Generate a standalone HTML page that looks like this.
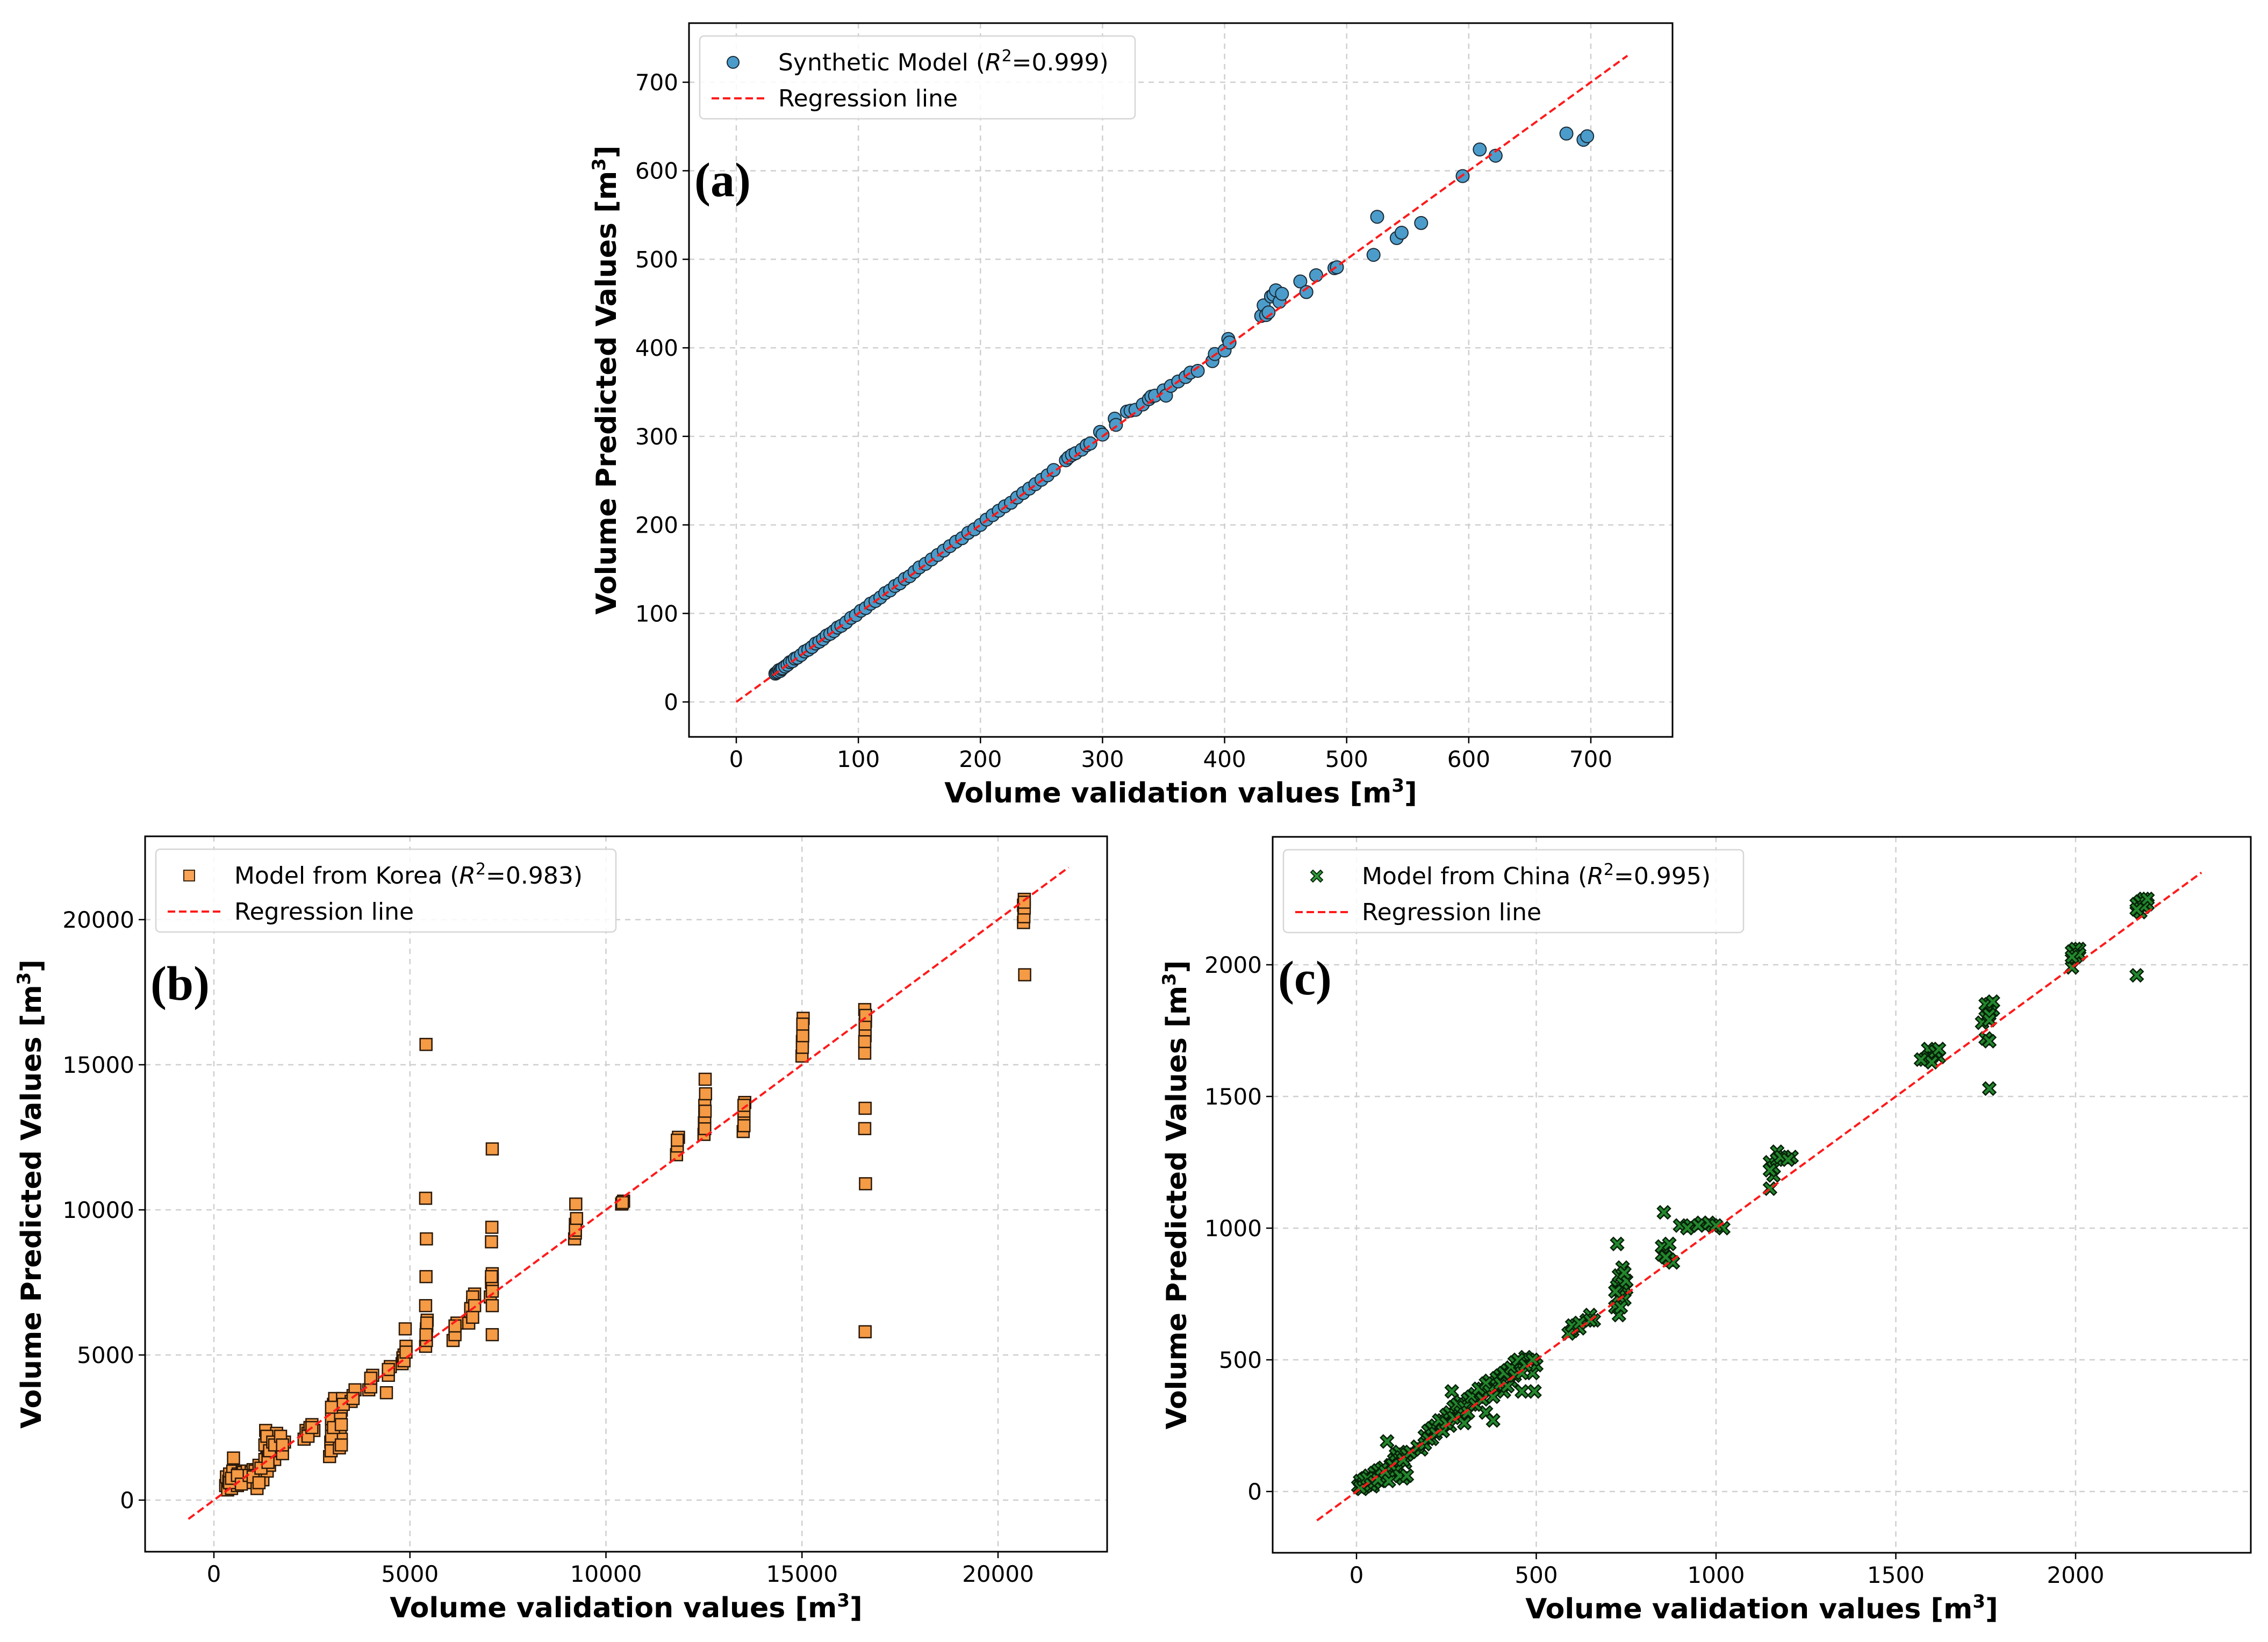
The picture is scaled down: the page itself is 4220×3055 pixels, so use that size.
<!DOCTYPE html>
<html><head><meta charset="utf-8"><style>
html,body{margin:0;padding:0;background:#fff}
svg{display:block}
</style></head><body>
<svg id="fig" xmlns="http://www.w3.org/2000/svg" width="4220" height="3055" viewBox="0 0 4220 3055" font-family="DejaVu Sans, Liberation Sans, sans-serif">
<rect width="4220" height="3055" fill="#fff"/>
</svg>
<script>
const aTicksX=[0,100,200,300,400,500,600,700];
const aTicksY=[0,100,200,300,400,500,600,700];
const aData=[[32,32],[33,33],[34,34],[35,36],[36,35],[37,37],[38,38],[40,40],[42,42],[44,45],[46,46],[48,49],[50,50],[53,53],[56,57],[59,59],[62,62],[65,66],[68,68],[71,71],[74,75],[77,77],[80,80],[83,84],[86,86],[90,90],[94,95],[98,98],[102,103],[106,106],[110,111],[114,114],[118,118],[122,123],[126,126],[130,131],[134,134],[138,139],[142,142],[146,147],[150,152],[155,156],[160,161],[165,166],[170,171],[175,176],[180,181],[185,185],[190,191],[195,195],[200,200],[205,206],[210,211],[215,216],[220,221],[225,225],[230,231],[235,236],[240,241],[245,246],[250,251],[255,256],[260,262],[270,273],[272,276],[275,279],[278,281],[283,285],[287,290],[290,292],[298,305],[300,302],[310,320],[311,313],[320,328],[323,329],[327,330],[333,336],[338,342],[340,345],[343,346],[350,352],[352,346],[356,357],[362,362],[368,367],[372,372],[378,374],[390,385],[392,393],[400,397],[403,410],[404,406],[430,436],[432,448],[434,437],[436,440],[438,458],[440,460],[442,465],[445,452],[447,461],[462,475],[467,463],[475,482],[490,490],[492,491],[522,505],[525,548],[541,524],[545,530],[561,541],[595,594],[609,624],[622,617],[680,642],[694,635],[697,639]];
const aLine=[0,730];

const bTicksX=[0,5000,10000,15000,20000];
const bTicksY=[0,5000,10000,15000,20000];
const bData=[[300,500],[320,800],[350,350],[380,650],[400,900],[450,400],[480,1000],[500,1450],[520,700],[550,600],[600,500],[620,900],[650,650],[700,800],[720,1000],[750,950],[800,700],[850,1000],[900,600],[950,950],[1000,1050],[1050,1000],[1100,400],[1150,1200],[1200,800],[1250,700],[1300,1400],[1320,2400],[1340,2100],[1350,1800],[1360,1000],[1380,1600],[1400,1500],[1420,1200],[1450,1800],[1500,1700],[1550,1400],[1600,2300],[1650,2000],[1700,1800],[1750,1600],[1800,2000],[2300,2100],[2350,2400],[2400,2300],[2450,2500],[2500,2600],[2550,2400],[2950,1500],[2980,2000],[3000,2600],[3020,3000],[3050,3300],[3080,3500],[3000,2800],[2990,1700],[3200,1800],[3220,2400],[3250,3100],[3280,3500],[3250,2100],[3230,2800],[3500,3400],[3550,3600],[3600,3800],[3950,3800],[4000,4100],[4050,4300],[4400,3700],[4450,4300],[4500,4600],[4450,4500],[4800,4700],[4850,5000],[4900,5300],[4820,4900],[4880,5900],[5400,5300],[5410,5600],[5420,5800],[5430,6000],[5440,6200],[5400,6700],[5410,7700],[5420,9000],[5400,10400],[5410,15700],[5420,5900],[6100,5500],[6150,5800],[6200,6100],[6500,6100],[6550,6500],[6600,6800],[6650,7100],[6550,6600],[7050,7000],[7080,7500],[7100,7800],[7100,5700],[7080,8900],[7090,9400],[7100,12100],[7100,7300],[7100,6700],[9200,9000],[9220,9500],[9230,10200],[9250,9700],[10400,10200],[10450,10300],[11800,11900],[11850,12500],[12500,12600],[12510,13000],[12520,13600],[12530,14500],[12540,14000],[13500,12700],[13520,13200],[13540,13700],[15000,15300],[15010,15800],[15020,16200],[15030,16600],[16600,15400],[16610,16000],[16620,16500],[16600,16900],[16610,13500],[16600,12800],[16620,10900],[16610,5800],[16600,15800],[20650,19900],[20660,20300],[20670,20700],[20680,18100],[20650,20500],
[400,600],[450,750],[600,850],[700,550],[900,850],[1000,800],[1150,600],[1200,1100],[1300,1900],[1350,2200],[1380,1300],[1420,1700],[1500,2000],[1550,1900],[1700,2200],[1750,1900],[2400,2200],[2500,2500],[3000,2200],[3000,3200],[3050,2500],[3250,1900],[3250,2600],[3300,3300],[3550,3500],[4000,3900],[4000,4200],[4850,4800],[4900,5100],[5420,5500],[5430,6100],[5410,5700],[6150,5700],[6150,6000],[6600,6300],[6600,7000],[6650,6700],[7100,7200],[7100,7600],[7080,7700],[9220,9200],[9220,9300],[10420,10250],[11820,12200],[11820,12400],[12520,12800],[12520,13200],[12530,13400],[13520,12900],[13520,13400],[13520,13600],[15010,15600],[15020,16000],[15020,16400],[16610,16200],[16610,16400],[16620,16700],[20660,20100],[20670,20400],[20670,20600]];
const bLine=[-650,21800];

const cTicksX=[0,500,1000,1500,2000];
const cTicksY=[0,500,1000,1500,2000];
const cData=[[5,20],[10,40],[15,10],[20,30],[25,50],[30,25],[35,60],[40,40],[45,20],[50,70],[55,50],[60,80],[65,40],[70,60],[75,90],[80,50],[85,190],[90,70],[95,100],[100,60],[105,120],[110,140],[115,90],[120,150],[125,130],[130,50],[135,110],[140,140],[180,160],[190,210],[200,230],[210,200],[220,250],[230,240],[240,270],[250,290],[260,250],[265,380],[270,320],[280,300],[290,340],[300,260],[310,350],[320,330],[330,370],[340,360],[350,390],[360,300],[370,420],[380,270],[390,400],[400,440],[410,380],[420,460],[430,420],[440,490],[450,470],[460,380],[470,510],[480,500],[490,450],[495,380],[500,480],[600,610],[610,630],[620,620],[640,650],[650,670],[660,650],[720,700],[725,780],[730,820],[735,760],[740,850],[745,730],[750,770],[725,940],[730,670],[850,900],[860,920],[870,880],[855,1060],[880,870],[900,1010],[930,1010],[960,1020],[990,1010],[1020,1000],[1150,1250],[1160,1200],[1150,1150],[1170,1290],[1190,1270],[1210,1270],[1580,1640],[1600,1660],[1620,1650],[1590,1680],[1750,1800],[1760,1850],[1770,1830],[1750,1720],[1760,1530],[1740,1780],[1990,2050],[2000,2030],[1990,1990],[2010,2060],[2170,2230],[2180,2200],[2190,2250],[2170,1960],[2200,2230],
[10,15],[20,45],[30,50],[40,25],[50,35],[60,45],[70,85],[80,75],[90,40],[100,100],[110,80],[120,60],[130,120],[140,60],[150,150],[170,170],[190,180],[200,200],[210,240],[220,220],[230,270],[240,230],[250,260],[260,300],[270,280],[280,330],[290,300],[300,320],[310,300],[320,360],[330,330],[340,390],[350,350],[360,410],[370,380],[380,360],[390,430],[400,410],[410,450],[420,400],[430,470],[440,440],[450,500],[460,450],[470,480],[490,500],[590,600],[600,630],[620,640],[650,650],[730,740],[740,790],[750,800],[720,760],[735,700],[745,830],[850,930],[860,890],[870,940],[920,1000],[950,1010],[980,1020],[1000,1010],[1160,1230],[1170,1260],[1180,1270],[1200,1260],[1150,1220],[1590,1650],[1610,1670],[1600,1630],[1620,1680],[1570,1640],[1750,1850],[1760,1810],[1770,1860],[1760,1790],[1760,1710],[2000,2060],[2010,2040],[1990,2030],[2180,2240],[2190,2220],[2200,2250],[2170,2210]];
const cLine=[-110,2350];

const NS="http://www.w3.org/2000/svg";
const svg=document.getElementById('fig');
function el(tag,attrs,parent){const e=document.createElementNS(NS,tag);for(const k in attrs)e.setAttribute(k,attrs[k]);(parent||svg).appendChild(e);return e;}
function xpoly(X,Y,s,w){return [[X-s,Y-s+w],[X-s+w,Y-s],[X,Y-w],[X+s-w,Y-s],[X+s,Y-s+w],[X+w,Y],[X+s,Y+s-w],[X+s-w,Y+s],[X,Y+w],[X-s+w,Y+s],[X-s,Y+s-w],[X-w,Y]].map(q=>q.join(',')).join(' ');}

function panel(p){
  const g=el('g',{});
  
  
  const sx=v=>p.x0+(v-p.vx0)*(p.x1-p.x0)/(p.vx1-p.vx0);
  const sy=v=>p.y0+(v-p.vy0)*(p.y1-p.y0)/(p.vy1-p.vy0);
  p.ticksX.forEach(t=>{const l=el('line',{x1:sx(t),x2:sx(t),y1:p.T,y2:p.B,stroke:'#cfcfcf','stroke-width':2.5,'stroke-dasharray':'10,9'},g);
    });
  p.ticksY.forEach(t=>{const l=el('line',{x1:p.L,x2:p.R,y1:sy(t),y2:sy(t),stroke:'#cfcfcf','stroke-width':2.5,'stroke-dasharray':'10,9'},g);
    });
  const pts=el('g',{},g);
  
  p.data.forEach(d=>{
    const X=sx(d[0]),Y=sy(d[1]);let m;
    if(p.marker==='o'){m=el('circle',{cx:X,cy:Y,r:12,fill:'#4b9ccb',stroke:'#1b2a35','stroke-width':2},pts);}
    else if(p.marker==='s'){m=el('rect',{x:X-11,y:Y-11,width:22,height:22,fill:'#f59a45',stroke:'#2a1808','stroke-width':2.5},pts);}
    else{m=el('polygon',{points:xpoly(X,Y,12,5),fill:'#23872d',stroke:'#062008','stroke-width':2.5},pts);}
    
  });
  const rl=el('line',{x1:sx(p.line[0]),y1:sy(p.line[0]),x2:sx(p.line[1]),y2:sy(p.line[1]),stroke:'#ff1a1a','stroke-width':4,'stroke-dasharray':'14,7'},g);
  
  const fr=el('rect',{x:p.L,y:p.T,width:p.R-p.L,height:p.B-p.T,fill:'none',stroke:'#000','stroke-width':3},g);
  
  p.ticksX.forEach(t=>{el('line',{x1:sx(t),x2:sx(t),y1:p.B,y2:p.B+12,stroke:'#000','stroke-width':2.5},g);
    const tx=el('text',{x:sx(t),y:p.B+56,'font-size':42,'text-anchor':'middle',fill:'#000'},g);tx.textContent=t;
    });
  p.ticksY.forEach(t=>{el('line',{x1:p.L-12,x2:p.L,y1:sy(t),y2:sy(t),stroke:'#000','stroke-width':2.5},g);
    const tx=el('text',{x:p.L-20,y:sy(t)+15,'font-size':42,'text-anchor':'end',fill:'#000'},g);tx.textContent=t;
    });
  const xt=el('text',{x:(p.L+p.R)/2,y:p.B+122,'font-size':52,'font-weight':'bold','text-anchor':'middle',fill:'#000'},g);
  xt.innerHTML='Volume validation values [m<tspan dy="-20" font-size="34">3</tspan><tspan dy="20">]</tspan>';
  
  const cy=(p.T+p.B)/2;
  const yt=el('text',{x:p.ylx,y:cy,'font-size':52,'font-weight':'bold','text-anchor':'middle',fill:'#000',transform:`rotate(-90 ${p.ylx} ${cy})`},g);
  yt.innerHTML='Volume Predicted Values  [m<tspan dy="-20" font-size="34">3</tspan><tspan dy="20">]</tspan>';
  yt.setAttribute('xml:space','preserve');
  
  const pl=el('text',{x:p.L+10,y:p.letterY,'font-size':90,'font-weight':'bold',fill:'#000'},g);
  pl.setAttribute('style','font-family:"Liberation Serif",serif');
  pl.textContent=p.letter;
  const lg=el('g',{},g);
  el('rect',{x:p.L+20,y:p.T+24,width:p.legW,height:154,rx:8,fill:'#fff','fill-opacity':0.85,stroke:'#d6d6d6','stroke-width':2.5},lg);
  const mx=p.L+82,my=p.T+73;
  if(p.marker==='o')el('circle',{cx:mx,cy:my,r:11,fill:'#4b9ccb',stroke:'#1b2a35','stroke-width':2},lg);
  else if(p.marker==='s')el('rect',{x:mx-10,y:my-10,width:20,height:20,fill:'#f8a355',stroke:'#3a2510','stroke-width':2},lg);
  else el('polygon',{points:xpoly(mx,my,11,4),fill:'#2f9a3a',stroke:'#0b2a0e','stroke-width':2},lg);
  el('line',{x1:p.L+42,x2:p.L+146,y1:p.T+140,y2:p.T+140,stroke:'#ff1a1a','stroke-width':4,'stroke-dasharray':'14,7'},lg);
  const t1=el('text',{x:p.L+166,y:p.T+88,'font-size':44,fill:'#000'},lg);
  t1.innerHTML=p.legendLabel+' (<tspan font-style="italic">R</tspan><tspan dy="-17" font-size="30">2</tspan><tspan dy="17">='+p.r2+')</tspan>';
  
  const t2=el('text',{x:p.L+166,y:p.T+155,'font-size':44,fill:'#000'},lg);
  t2.textContent='Regression line';
}

panel({name:'panel-a-synthetic',L:1282,R:3112,T:43,B:1371,x0:1370,x1:2960,vx0:0,vx1:700,y0:1306,y1:153,vy0:0,vy1:700,
  ticksX:aTicksX,ticksY:aTicksY,data:aData,line:aLine,marker:'o',ylx:1146,letter:'(a)',letterY:365,legW:810,legendLabel:'Synthetic Model',r2:'0.999'});
panel({name:'panel-b-korea',L:270,R:2060,T:1556,B:2887,x0:398,x1:1857,vx0:0,vx1:20000,y0:2791,y1:1711,vy0:0,vy1:20000,
  ticksX:bTicksX,ticksY:bTicksY,data:bData,line:bLine,marker:'s',ylx:76,letter:'(b)',letterY:1860,legW:856,legendLabel:'Model from Korea',r2:'0.983'});
panel({name:'panel-c-china',L:2368,R:4188,T:1557,B:2889,x0:2524,x1:3862,vx0:0,vx1:2000,y0:2775,y1:1795,vy0:0,vy1:2000,
  ticksX:cTicksX,ticksY:cTicksY,data:cData,line:cLine,marker:'x',ylx:2207,letter:'(c)',letterY:1850,legW:856,legendLabel:'Model from China',r2:'0.995'});
</script>
</body></html>
